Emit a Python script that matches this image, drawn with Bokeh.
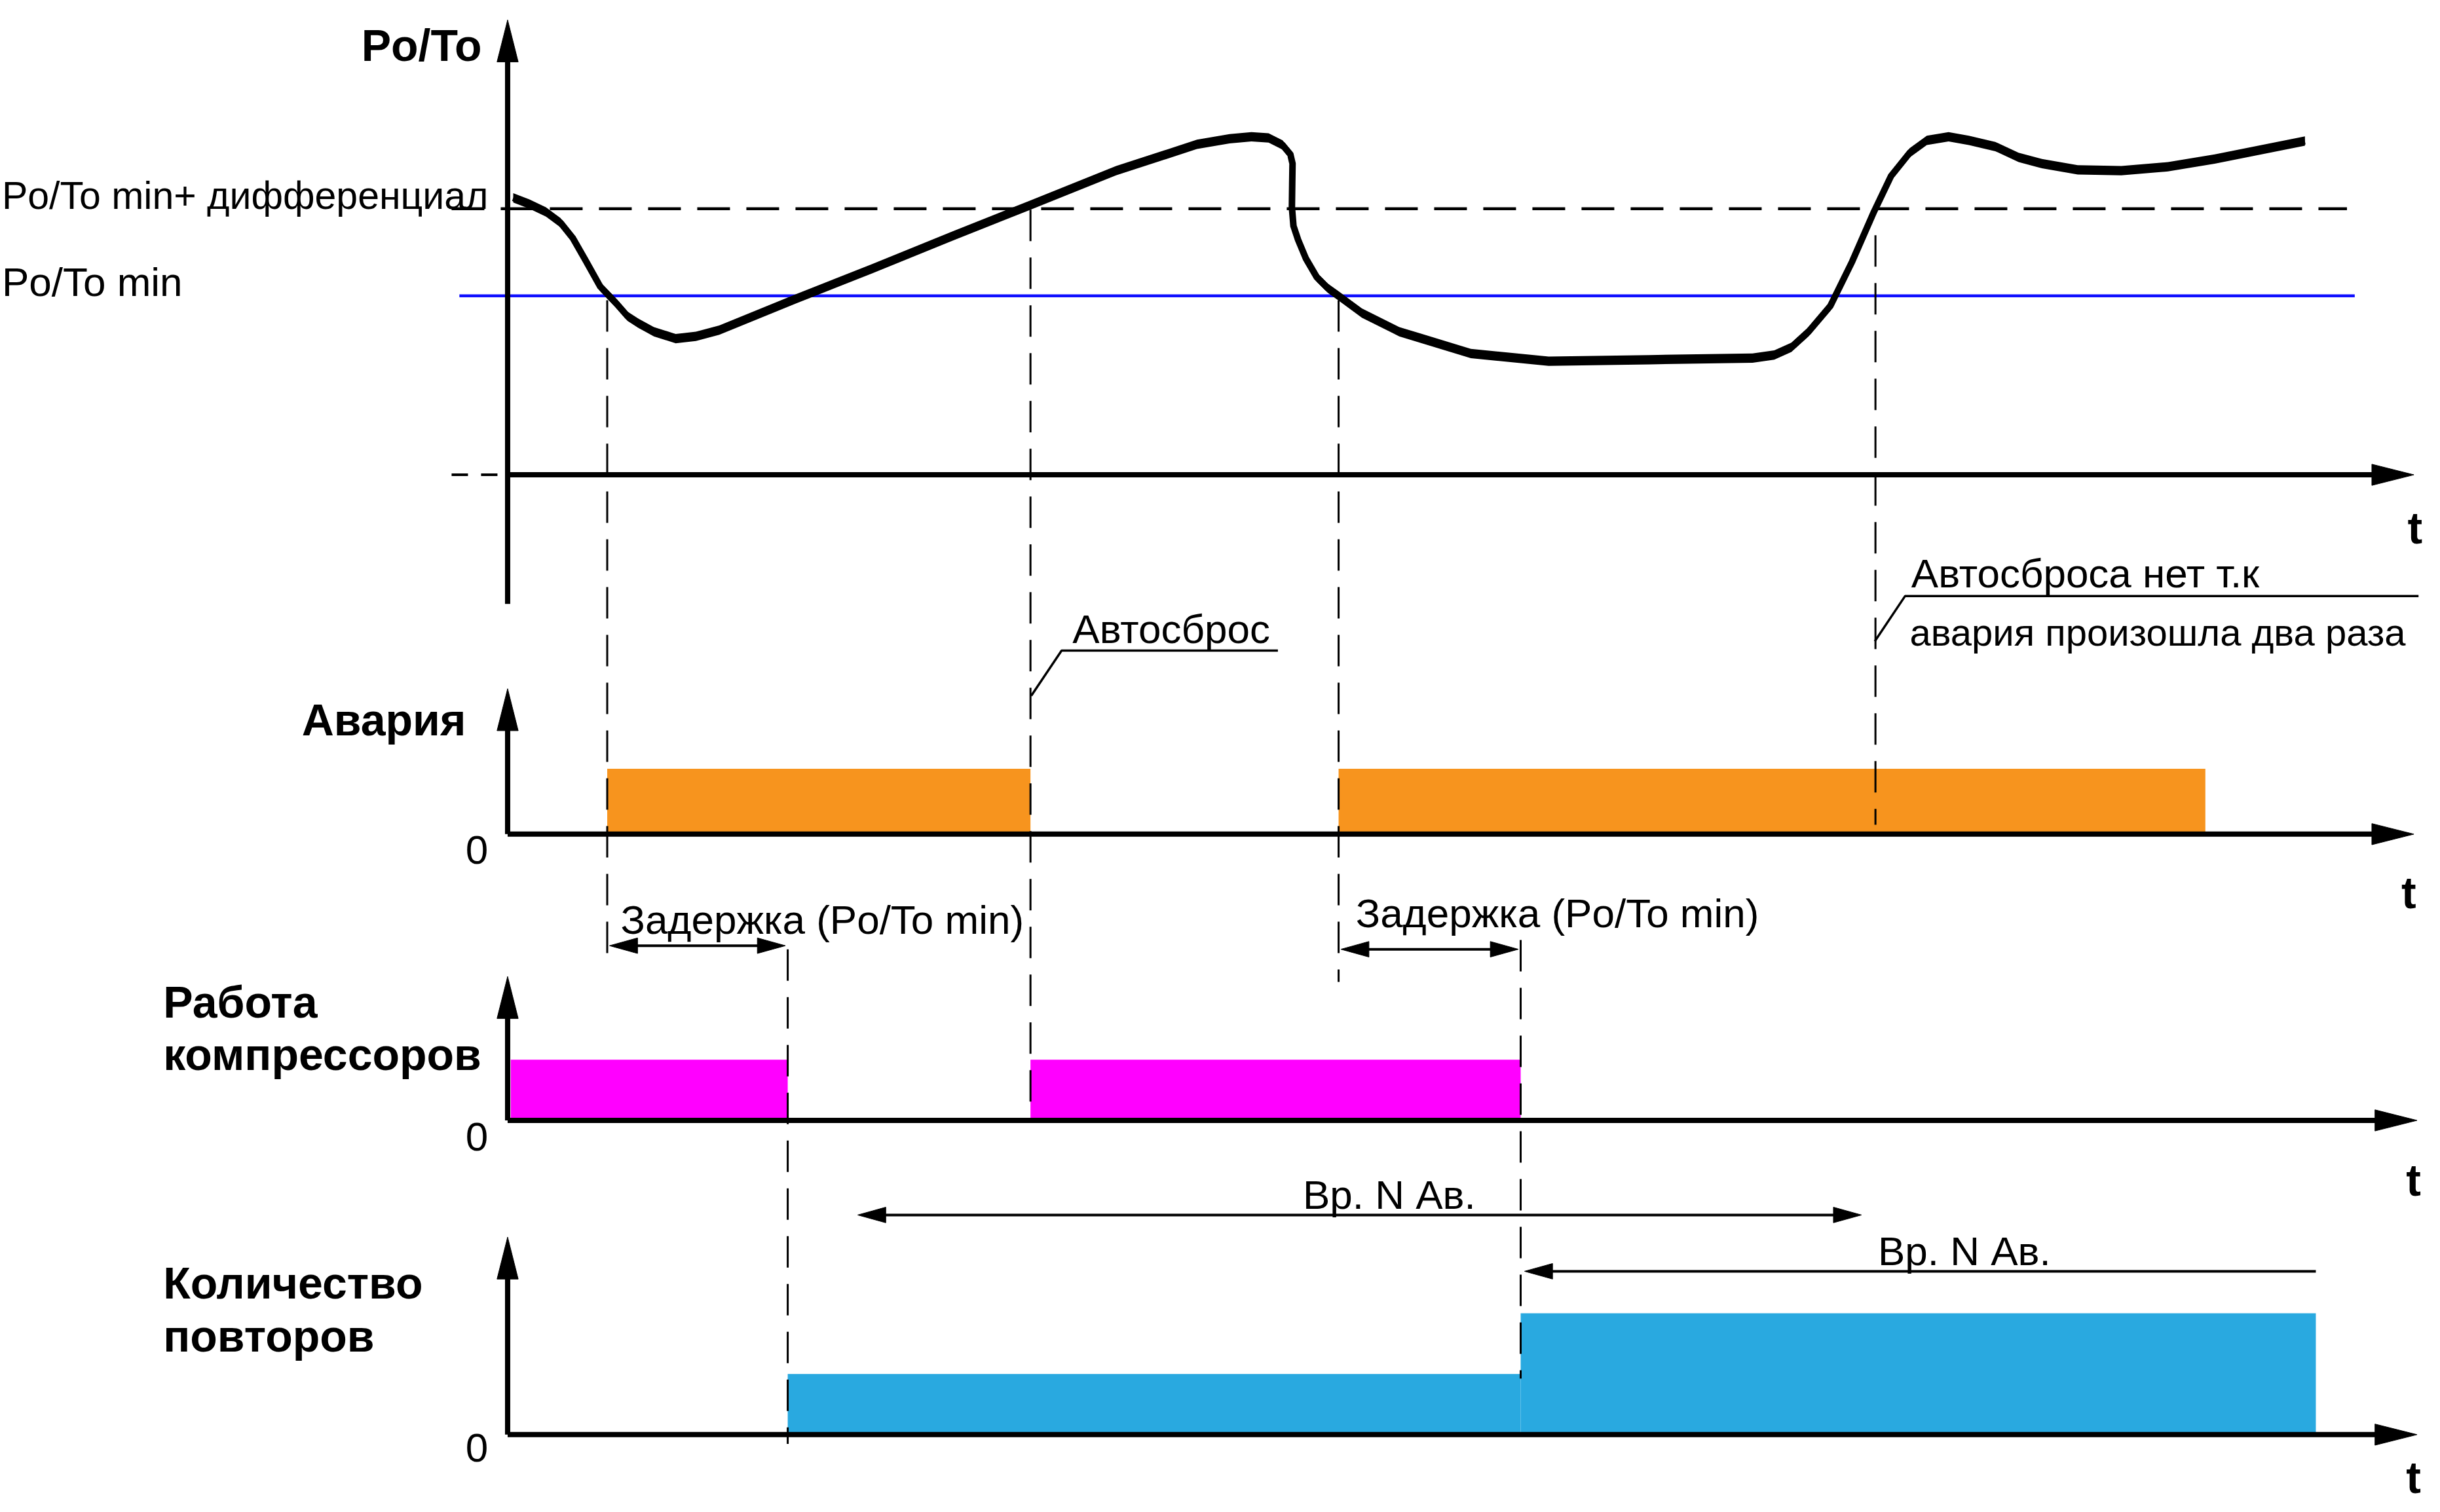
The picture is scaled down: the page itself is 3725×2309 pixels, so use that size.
from bokeh.plotting import figure
from bokeh.models import Range1d
from bokeh.core.properties import value
from bokeh.embed import file_html
from bokeh.resources import INLINE

# ---------------- data (time in drawing units, levels relative to each panel's time axis) ----
curve_t = [329.6, 340, 350.6, 360, 368, 376, 385.5, 396, 403, 410, 420, 434, 447, 462, 511,
           560, 612, 661, 717, 769, 790, 804, 815, 824, 829, 830.4, 830.2, 830, 831, 834,
           839, 846, 853, 860, 875, 899, 945, 995, 1060, 1126, 1140, 1151, 1162, 1176,
           1190, 1204, 1215, 1227, 1238, 1252, 1265, 1282, 1297, 1312, 1335, 1363, 1393,
           1423, 1481]
curve_po = [178, 174, 169, 162, 152, 138, 121, 110, 102, 97.4, 92, 87.5, 89, 93, 113,
            132.4, 153.5, 173, 195.5, 212.4, 216, 217.3, 216.5, 212, 206, 200, 187, 172, 160, 151,
            139, 127, 120, 115, 104, 92, 78, 73, 74, 75, 77, 82, 92, 108.5,
            137, 169, 192, 207, 215, 217.3, 215, 211, 204, 200, 196, 195.5, 198,
            203, 214.5]
po_min = 115            # Po/To min
po_min_diff = 171       # Po/To min + дифференциал

alarm_start = [390, 860]
alarm_end = [662, 1417]
alarm_level = [1, 1]

comp_start = [328, 662]
comp_end = [506, 977]
comp_level = [1, 1]

repeat_start = [506, 977]
repeat_end = [977, 1488]
repeat_count = [1, 2]

delay_start = [390, 860]
delay_end = [506, 977]
delay_label = ["Задержка (Po/To min)", "Задержка (Po/To min)"]

window_start = [551, 977]
window_end = [1196, 1488]
window_label = ["Вр. N Ав.", "Вр. N Ав."]

panel_titles = [["Po/To"], ["Авария"], ["Работа", "компрессоров"], ["Количество", "повторов"]]
left_labels = ["Po/To min+ дифференциал", "Po/To min"]
note_reset = "Автосброс"
note_no_reset = ["Автосброса нет т.к", "авария произошла два раза"]

# ---------------- layout (drawing units) ----------------
S = 3725 / 1568.0
W_PX, H_PX = 3709, 2293
FONT = "Liberation Sans"
REG = 26 * S
BOLD = 28.5 * S
TY = -1.5   # baseline nudge for the smaller glyphs

base = [305, 536, 720, 922]          # time axis y of each panel
unit = [1, 42, 39, 39]               # drawing units per level unit
axis_x = 326
ytip = [12.6, 442.5, 627.5, 795]
ybot = [388, 536, 720, 922]
xtip = [1551, 1551, 1553, 1553]

p = figure(width=W_PX, height=H_PX,
           x_range=Range1d(0, W_PX / S), y_range=Range1d(H_PX / S, 0),
           output_backend="svg", toolbar_location=None, min_border=0,
           x_axis_location=None, y_axis_location=None)
p.grid.visible = False
p.outline_line_color = None
p.background_fill_color = "white"


def head(tx, ty, dx, dy, L, Wd):
    nx, ny = -dy, dx
    bx, by = tx - L * dx, ty - L * dy
    return [tx, bx + Wd * nx, bx - Wd * nx], [ty, by + Wd * ny, by - Wd * ny]


# bars
p.quad(left=alarm_start, right=alarm_end, bottom=base[1],
       top=[base[1] - v * unit[1] for v in alarm_level], fill_color="#F7941E", line_color=None)
p.quad(left=comp_start, right=comp_end, bottom=base[2],
       top=[base[2] - v * unit[2] for v in comp_level], fill_color="#FF00FF", line_color=None)
p.quad(left=repeat_start, right=repeat_end, bottom=base[3],
       top=[base[3] - v * unit[3] for v in repeat_count], fill_color="#29A9E0", line_color=None)

# threshold lines
p.segment(x0=[295], y0=[base[0] - po_min], x1=[1513], y1=[base[0] - po_min],
          line_color="#1010FF", line_width=4.5)
p.segment(x0=[290], y0=[base[0] - po_min_diff], x1=[1508], y1=[base[0] - po_min_diff],
          line_color="black", line_width=4.5, line_dash="50 25")

# vertical guide lines (dashed)
g_x = [alarm_start[0], alarm_end[0], alarm_start[1], 1205, delay_end[0], delay_end[1]]
g_top = [192.8, 134.6, 192.8, 151, 610, 604]
g_bot = [617, 720, 631, 530, 928, 886]
p.segment(x0=g_x, y0=g_top, x1=g_x, y1=g_bot, line_color="black", line_width=3,
          line_dash="48 25")

# axes
for i in range(4):
    p.segment(x0=[axis_x], y0=[ybot[i]], x1=[axis_x], y1=[ytip[i] + 20],
              line_color="black", line_width=8)
    p.segment(x0=[axis_x], y0=[base[i]], x1=[xtip[i] - 20], y1=[base[i]],
              line_color="black", line_width=8)
    hx, hy = head(axis_x, ytip[i], 0, -1, 27, 6.8)
    p.patch(hx, hy, fill_color="black", line_color="black", line_width=1)
    hx, hy = head(xtip[i], base[i], 1, 0, 27, 6.8)
    p.patch(hx, hy, fill_color="black", line_color="black", line_width=1)
p.segment(x0=[290], y0=[base[0]], x1=[axis_x], y1=[base[0]], line_color="black",
          line_width=4, line_dash="25 20")

# curve: pen stroke with vertical nib
top_y = [base[0] - v - 3.0 for v in curve_po]
bot_y = [base[0] - v + 3.0 for v in curve_po]
p.patch(curve_t + curve_t[::-1], top_y + bot_y[::-1], fill_color="black", line_color=None)
p.line(curve_t, [base[0] - v for v in curve_po], line_color="black", line_width=10,
       line_join="round")

# delay arrows (double headed)
dy_arrow = [607.7, 610]
for s, e, yy in zip(delay_start, delay_end, dy_arrow):
    p.segment(x0=[s + 8], y0=[yy], x1=[e - 8], y1=[yy], line_color="black", line_width=4)
    hx, hy = head(s + 1.5, yy, -1, 0, 18, 5)
    p.patch(hx, hy, fill_color="black", line_color="black")
    hx, hy = head(e - 1.5, yy, 1, 0, 18, 5)
    p.patch(hx, hy, fill_color="black", line_color="black")

# repeat-window arrows
wy = [780.8, 817]
p.segment(x0=[window_start[0] + 8], y0=[wy[0]], x1=[window_end[0] - 8], y1=[wy[0]],
          line_color="black", line_width=4)
hx, hy = head(window_start[0], wy[0], -1, 0, 18, 5)
p.patch(hx, hy, fill_color="black", line_color="black")
hx, hy = head(window_end[0], wy[0], 1, 0, 18, 5)
p.patch(hx, hy, fill_color="black", line_color="black")
p.segment(x0=[window_start[1] + 8], y0=[wy[1]], x1=[window_end[1]], y1=[wy[1]],
          line_color="black", line_width=4)
hx, hy = head(window_start[1] + 2.5, wy[1], -1, 0, 18, 5)
p.patch(hx, hy, fill_color="black", line_color="black")

# leader lines for notes
p.line([662.5, 682, 821], [447, 418, 418], line_color="black", line_width=3.5)
p.line([1204.6, 1224, 1554], [412, 383, 383], line_color="black", line_width=3.5)


def txt(x, y, s, size, bold=False, align="left"):
    p.text(x=[x], y=[y + TY], text=[s], text_font=value(FONT), text_font_size=f"{size:.0f}px",
           text_font_style="bold" if bold else "normal", text_align=align,
           text_baseline="alphabetic", text_color="black")


# regular texts
txt(1, 127, left_labels[0], 25.0 * S)
txt(1, 182.4, left_labels[1], REG)
txt(689, 405.4, note_reset, REG)
txt(1228, 369.8, note_no_reset[0], REG)
txt(1227, 407.5, note_no_reset[1], 24.6 * S)
txt(398.6, 592.7, delay_label[0], REG)
txt(871, 588.5, delay_label[1], REG)
txt(837, 769.4, window_label[0], REG)
txt(1206.6, 805.4, window_label[1], REG)
for yb in [547.6, 732, 932]:
    txt(313.5, yb, "0", REG, align="right")

# bold texts
txt(232, 30.2, panel_titles[0][0], BOLD, True)
txt(193.7, 464, panel_titles[1][0], BOLD, True)
txt(104.7, 645.3, panel_titles[2][0], BOLD, True)
txt(104.7, 679, panel_titles[2][1], BOLD, True)
txt(104.7, 825.7, panel_titles[3][0], BOLD, True)
txt(104.7, 860, panel_titles[3][1], BOLD, True)
for xx, yb in [(1547, 340.5), (1543, 575), (1546, 759.7), (1546, 951)]:
    txt(xx, yb, "t", BOLD, True)

open("out.html", "w").write(file_html(p, INLINE))
